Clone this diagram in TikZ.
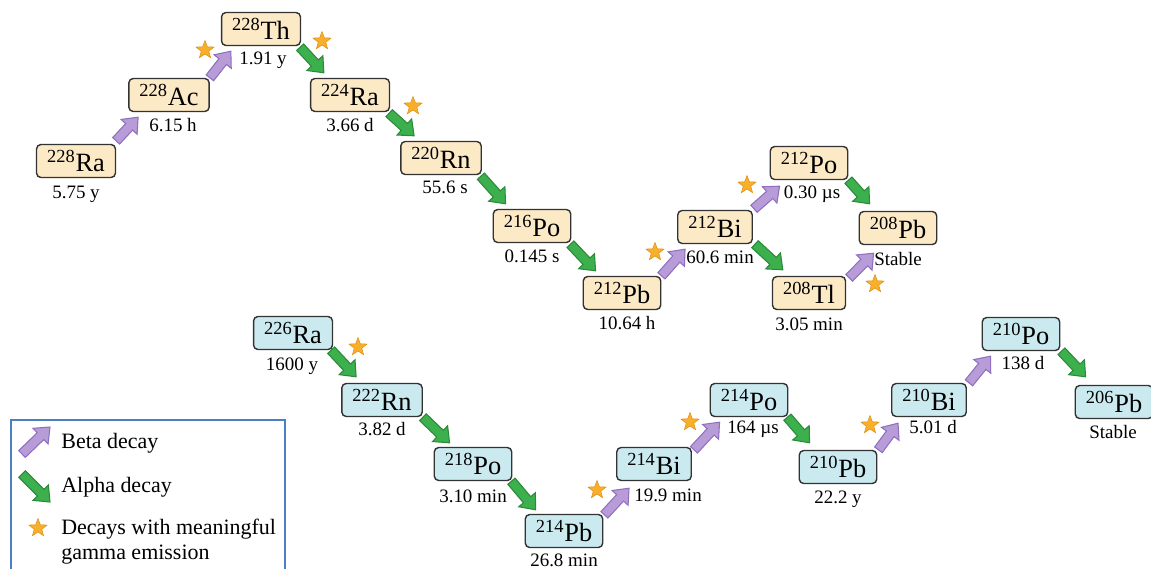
\documentclass[tikz,border=0pt]{standalone}
\usepackage{fontspec}
\setmainfont{Liberation Serif}
\usetikzlibrary{calc,shapes.geometric}
\definecolor{beige}{HTML}{FCE9C6}
\definecolor{lblue}{HTML}{CBEAF0}
\definecolor{betafill}{HTML}{B89CD8}
\definecolor{betadraw}{HTML}{8E6FC0}
\definecolor{alphafill}{HTML}{3DB04E}
\definecolor{alphadraw}{HTML}{2A8A3A}
\definecolor{starfill}{HTML}{F8B02C}
\definecolor{stardraw}{HTML}{E08E10}
\definecolor{legblue}{HTML}{4A7FC1}
\newcommand{\iso}[2]{\textsuperscript{#1}#2}
\begin{document}
\begin{tikzpicture}[x=0.02cm,y=-0.02cm,
  nuc/.style={draw=black!80, line width=0.8pt, rounded corners=2.5pt, minimum height=0.66cm, inner xsep=6pt, inner ysep=0pt, font=\fontsize{15}{17}\selectfont},
  th/.style={nuc, fill=beige},
  ur/.style={nuc, fill=lblue},
  hl/.style={font=\fontsize{10.8}{12}\selectfont, inner sep=0pt, text height=7.2pt, text depth=0pt},
  blockarrow/.style={line width=0.6pt, line join=miter,
    to path={let \p1=(\tikztostart), \p2=(\tikztotarget), \n1={atan2(\y2-\y1,\x2-\x1)} in
      ($(\p1)+(\n1+90:2.7pt)$) -- ($(\p2)+(\n1+180:7.5pt)+(\n1+90:2.7pt)$) -- ($(\p2)+(\n1+180:7.5pt)+(\n1+90:6.2pt)$) -- (\p2) -- ($(\p2)+(\n1+180:7.5pt)+(\n1-90:6.2pt)$) -- ($(\p2)+(\n1+180:7.5pt)+(\n1-90:2.7pt)$) -- ($(\p1)+(\n1-90:2.7pt)$) -- cycle}},
  betaarrow/.style={blockarrow, fill=betafill, draw=betadraw},
  alphaarrow/.style={blockarrow, fill=alphafill, draw=alphadraw},
  gstar/.style={star, star points=5, star point ratio=2.4, minimum size=0.38cm, inner sep=0pt, fill=starfill, draw=stardraw, line width=0.3pt},
  legtext/.style={font=\fontsize{12.5}{14.2}\selectfont, anchor=west, inner sep=0pt, align=left}
]
\useasboundingbox (0,0) rectangle (1151,568);

% ---------- Thorium series ----------
\node[th] (ra228) at (76,161) {\iso{228}{Ra}};
\node[th] (ac228) at (169,95) {\iso{228}{Ac}};
\node[th] (th228) at (261,29) {\iso{228}{Th}};
\node[th] (ra224) at (350,95) {\iso{224}{Ra}};
\node[th] (rn220) at (441,158) {\iso{220}{Rn}};
\node[th] (po216) at (532,226) {\iso{216}{Po}};
\node[th] (pb212) at (622,293) {\iso{212}{Pb}};
\node[th] (bi212) at (715,227) {\iso{212}{Bi}};
\node[th] (po212) at (809,163) {\iso{212}{Po}};
\node[th] (pb208) at (898,228) {\iso{208}{Pb}};
\node[th] (tl208) at (809,293) {\iso{208}{Tl}};

\node[hl] (hra228) at (76,192) {5.75 y};
\node[hl] (hac228) at (173,125) {6.15 h};
\node[hl] (hth228) at (263,58) {1.91 y};
\node[hl] (hra224) at (350,125) {3.66 d};
\node[hl] (hrn220) at (445,187) {55.6 s};
\node[hl] (hpo216) at (532,256) {0.145 s};
\node[hl] (hpb212) at (627,323) {10.64 h};
\node[hl] (hbi212) at (720,257) {60.6 min};
\node[hl] (hpo212) at (812,192) {0.30 µs};
\node[hl] (hpb208) at (898,259) {Stable};
\node[hl] (htl208) at (809,324) {3.05 min};

% ---------- Uranium series ----------
\node[ur] (ra226) at (293,333) {\iso{226}{Ra}};
\node[ur] (rn222) at (382,400) {\iso{222}{Rn}};
\node[ur] (po218) at (473,464) {\iso{218}{Po}};
\node[ur] (pb214) at (564,531) {\iso{214}{Pb}};
\node[ur] (bi214) at (654,464) {\iso{214}{Bi}};
\node[ur] (po214) at (749,400) {\iso{214}{Po}};
\node[ur] (pb210) at (838,467) {\iso{210}{Pb}};
\node[ur] (bi210) at (929,400) {\iso{210}{Bi}};
\node[ur] (po210) at (1021,334) {\iso{210}{Po}};
\node[ur] (pb206) at (1114,402) {\iso{206}{Pb}};

\node[hl] (hra226) at (292,364) {1600 y};
\node[hl] (hrn222) at (382,429) {3.82 d};
\node[hl] (hpo218) at (473,496) {3.10 min};
\node[hl] (hpb214) at (564,560) {26.8 min};
\node[hl] (hbi214) at (668,495) {19.9 min};
\node[hl] (hpo214) at (753,427) {164 µs};
\node[hl] (hpb210) at (838,497) {22.2 y};
\node[hl] (hbi210) at (933,427) {5.01 d};
\node[hl] (hpo210) at (1023,363) {138 d};
\node[hl] (hpb206) at (1113,432) {Stable};

% ---------- Decay arrows ----------
\draw[betaarrow] ($(ra228.north east)+(0,-3)$) to ($(ac228.south west)+(10,5)$);
\draw[betaarrow] ($(ac228.north east)+(0,0)$) to ($(th228.south west)+(10,5)$);
\draw[alphaarrow] ($(th228.south east)+(-1,1)$) to ($(ra224.north west)+(14,-5)$);
\draw[alphaarrow] ($(ra224.south east)+(-1,1)$) to ($(rn220.north west)+(14,-5)$);
\draw[alphaarrow] ($(rn220.south east)+(-1,1)$) to ($(po216.north west)+(13,-5)$);
\draw[alphaarrow] ($(po216.south east)+(-1,1)$) to ($(pb212.north west)+(13,-5)$);
\draw[betaarrow] ($(pb212.north east)+(0,0)$) to ($(bi212.south west)+(8,5)$);
\draw[betaarrow] ($(bi212.north east)+(1,-1)$) to ($(po212.south west)+(10,6)$);
\draw[alphaarrow] ($(bi212.south east)+(2,0)$) to ($(tl208.north west)+(11,-6)$);
\draw[alphaarrow] ($(po212.south east)+(0,0)$) to ($(pb208.north west)+(11,-7)$);
\draw[betaarrow] ($(tl208.north east)+(3,2)$) to ($(pb208.south west)+(15,8)$);

\draw[alphaarrow] ($(ra226.south east)+(-2,0)$) to ($(rn222.north west)+(15,-6)$);
\draw[alphaarrow] ($(rn222.south east)+(0,0)$) to ($(po218.north west)+(16,-4)$);
\draw[alphaarrow] ($(po218.south east)+(-1,0)$) to ($(pb214.north west)+(11,-4)$);
\draw[betaarrow] ($(pb214.north east)+(1,1)$) to ($(bi214.south west)+(13,7)$);
\draw[betaarrow] ($(bi214.north east)+(2,3)$) to ($(po214.south west)+(10,5)$);
\draw[alphaarrow] ($(po214.south east)+(-1,0)$) to ($(pb210.north west)+(11,-7)$);
\draw[betaarrow] ($(pb210.north east)+(1,0)$) to ($(bi210.south west)+(7,6)$);
\draw[betaarrow] ($(bi210.north east)+(2,0)$) to ($(po210.south west)+(9,5)$);
\draw[alphaarrow] ($(po210.south east)+(1,0)$) to ($(pb206.north west)+(11,-8)$);

% ---------- Gamma stars ----------
\node[gstar] (s1) at (205,50) {};
\node[gstar] (s2) at (322,41) {};
\node[gstar] (s3) at (413,106) {};
\node[gstar] (s4) at (655,252) {};
\node[gstar] (s5) at (747,185) {};
\node[gstar] (s6) at (875,284) {};
\node[gstar] (s7) at (358,347) {};
\node[gstar] (s8) at (597,490) {};
\node[gstar] (s9) at (690,422) {};
\node[gstar] (s10) at (870,425) {};

% ---------- Legend ----------
\coordinate (legtl) at (11,420);
\coordinate (legtr) at (285,420);
\coordinate (legbl) at (11,575);
\coordinate (legbr) at (285,575);
\draw[legblue, line width=0.7pt] (legbl) -- (legtl) -- (legtr) -- (legbr);
\coordinate (lb1) at (22,454);
\coordinate (lb2) at (50,427);
\coordinate (la1) at (22,474);
\coordinate (la2) at (50,502);
\draw[betaarrow] (lb1) to (lb2);
\draw[alphaarrow] (la1) to (la2);
\node[gstar] (ls) at (38,528) {};
\node[legtext] (lt1) at (61,443) {Beta decay};
\node[legtext] (lt2) at (61,487) {Alpha decay};
\node[legtext, anchor=north west] (lt3) at (61,519) {Decays with meaningful\\gamma emission};
\end{tikzpicture}
\end{document}
